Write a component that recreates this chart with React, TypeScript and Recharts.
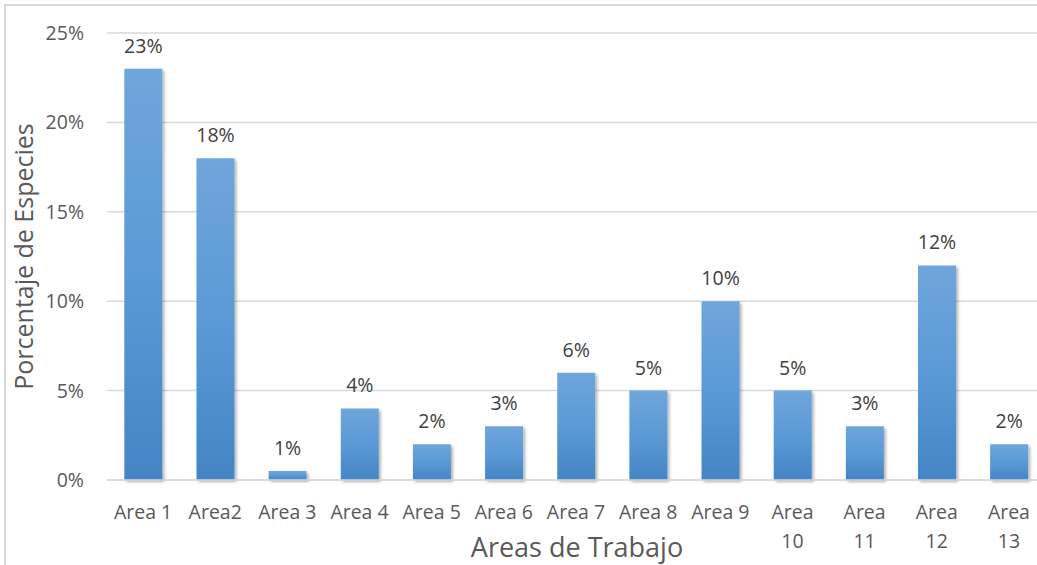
import React from "react";
import { BarChart, Bar, XAxis, YAxis, CartesianGrid, LabelList, Label } from "recharts";

// Share of species recorded in each work area (%)
const areas = [
  "Area 1", "Area2", "Area 3", "Area 4", "Area 5", "Area 6", "Area 7",
  "Area 8", "Area 9", "Area 10", "Area 11", "Area 12", "Area 13",
];
const percentages = [23, 18, 0.5, 4, 2, 3, 6, 5, 10, 5, 3, 12, 2];
const yTicks = [0, 5, 10, 15, 20, 25];

const data = areas.map((area, i) => ({ area, value: percentages[i] }));

const FONT = "'Open Sans', 'Noto Sans', sans-serif";
const TEXT = "#595959";

// Category tick that wraps longer names onto two lines
const AreaTick = (props: any) => {
  const { x, y, payload } = props;
  const label: string = payload.value;
  const lines = label.length >= 7 ? label.split(" ") : [label];
  return (
    <text x={x} y={y} textAnchor="middle" fill={TEXT} fontSize={19.5} fontFamily={FONT}>
      {lines.map((ln, i) => (
        <tspan key={i} x={x} dy={i === 0 ? 31 : 29}>
          {ln}
        </tspan>
      ))}
    </text>
  );
};

export default function App() {
  return (
    <div style={{ position: "absolute", left: 0, top: 0, width: 1037, height: 565, overflow: "hidden", background: "#fff" }}>
      <div
        style={{
          position: "absolute",
          left: 4,
          top: 4,
          width: 1060,
          height: 600,
          border: "2px solid #d9d9d9",
          boxSizing: "border-box",
        }}
      />
      <div style={{ position: "absolute", left: 0, top: 0 }}>
        <BarChart
          width={1052}
          height={565}
          data={data}
          margin={{ top: 33, right: 7, left: 0, bottom: 0 }}
          barCategoryGap="24%"
        >
          <defs>
            <linearGradient id="barFill" x1="0" y1="0" x2="0" y2="1">
              <stop offset="0%" stopColor="#6fa6db" />
              <stop offset="50%" stopColor="#5a9ad6" />
              <stop offset="100%" stopColor="#4385c6" />
            </linearGradient>
            <filter id="barShadow" x="-20%" y="-20%" width="150%" height="150%">
              <feDropShadow dx="2" dy="2" stdDeviation="1.6" floodColor="#000" floodOpacity="0.3" />
            </filter>
          </defs>
          <CartesianGrid vertical={false} stroke="#d9d9d9" strokeWidth={1.5} />
          <XAxis
            dataKey="area"
            height={85}
            interval={0}
            tickLine={false}
            axisLine={{ stroke: "#d9d9d9", strokeWidth: 1.5 }}
            tick={<AreaTick />}
          >
            <Label
              value="Areas de Trabajo"
              position="insideBottom"
              offset={8}
              dx={1}
              fill={TEXT}
              fontSize={27}
              fontFamily={FONT}
            />
          </XAxis>
          <YAxis
            width={107}
            domain={[0, 25]}
            ticks={yTicks}
            tickFormatter={(v: number) => `${v}%`}
            axisLine={false}
            tickLine={false}
            tickMargin={17}
            tick={{ fill: TEXT, fontSize: 19.5, fontFamily: FONT }}
          >
            <Label
              value="Porcentaje de Especies"
              angle={-90}
              position="insideLeft"
              offset={24}
              fill={TEXT}
              fontSize={25}
              fontFamily={FONT}
              style={{ textAnchor: "middle" }}
            />
          </YAxis>
          <Bar dataKey="value" fill="url(#barFill)" filter="url(#barShadow)" isAnimationActive={false}>
            <LabelList
              dataKey="value"
              position="top"
              offset={16}
              formatter={(v: number) => `${Math.round(v)}%`}
              fill="#404040"
              fontSize={19.5}
              fontFamily={FONT}
            />
          </Bar>
        </BarChart>
      </div>
    </div>
  );
}
